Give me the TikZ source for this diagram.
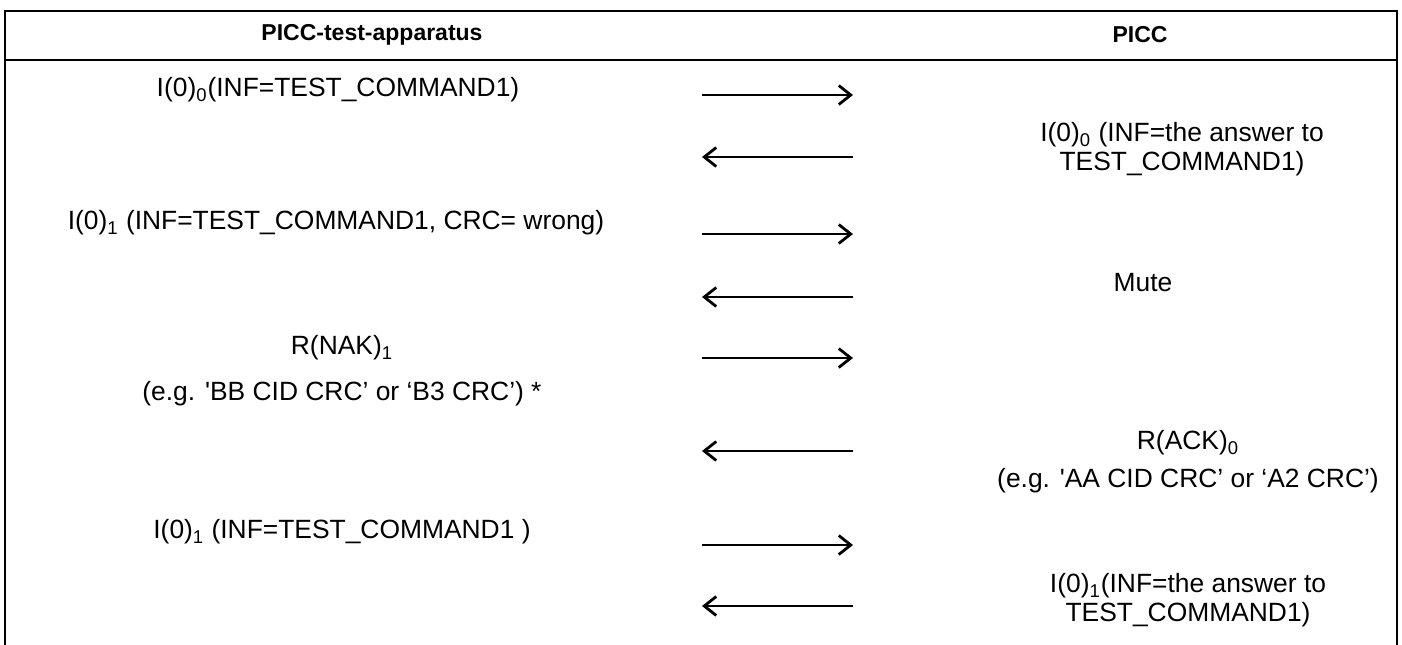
\documentclass[tikz,border=0pt]{standalone}
\usepackage{fontspec}
\setmainfont{Liberation Sans}
\usetikzlibrary{arrows.meta,positioning}

\begin{document}
\begin{tikzpicture}[x=0.5pt, y=-0.5pt, >={Straight Barb[length=6pt,width=9.5pt,line width=1.4pt]},
    msg/.style = {font=\fontsize{13.2}{14.2}\selectfont, inner sep=0pt, align=center},
    head/.style = {font=\fontsize{11.5}{13}\selectfont\bfseries, inner sep=0pt},
    frame/.style = {line width=1.2pt},
    flow/.style = {->, line width=1.1pt}]
    \useasboundingbox (0,0) rectangle (1402,644);
    % table frame
    \draw[frame] (5,660) -- (5,11) -- (1397,11) -- (1397,660);
    \draw[frame] (5,60) -- (1397,60);
    \node [head] (pcd) at (372,35) {PICC-test-apparatus};
    \node [head] (picc) at (1140,35) {PICC};
    % messages
    \node [msg] (cmd_a) at (338,90) {I(0)\textsubscript{0}(INF=TEST\_COMMAND1)};
    \node [msg] (ans_a) at (1182,149) {I(0)\textsubscript{0} (INF=the answer to\\TEST\_COMMAND1)};
    \node [msg] (cmd_bad) at (336,223) {I(0)\textsubscript{1} (INF=TEST\_COMMAND1, CRC= wrong)};
    \node [msg] (mute) at (1143,283) {Mute};
    \node [msg] (nak) at (342,348) {R(NAK)\textsubscript{1}};
    \node [msg, below=10pt of nak] (nak_eg) {(e.g. \textquotesingle BB CID CRC’ or ‘B3 CRC’) *};
    \node [msg] (ack) at (1188,443) {R(ACK)\textsubscript{0}};
    \node [msg, below=6pt of ack] (ack_eg) {(e.g. \textquotesingle AA CID CRC’ or ‘A2 CRC’)};
    \node [msg] (cmd_b) at (342,532) {I(0)\textsubscript{1} (INF=TEST\_COMMAND1 )};
    \node [msg] (ans_b) at (1188,600) {I(0)\textsubscript{1}(INF=the answer to\\TEST\_COMMAND1)};
    % arrows
    \foreach \i/\y in {1/95,2/157,3/234,4/297,5/358,6/451,7/545,8/606} {
        \coordinate (s\i) at (702,\y);
        \coordinate (t\i) at (853,\y);
    }
    \draw[flow] (s1) -- (t1);
    \draw[flow] (t2) -- (s2);
    \draw[flow] (s3) -- (t3);
    \draw[flow] (t4) -- (s4);
    \draw[flow] (s5) -- (t5);
    \draw[flow] (t6) -- (s6);
    \draw[flow] (s7) -- (t7);
    \draw[flow] (t8) -- (s8);
\end{tikzpicture}
\end{document}
